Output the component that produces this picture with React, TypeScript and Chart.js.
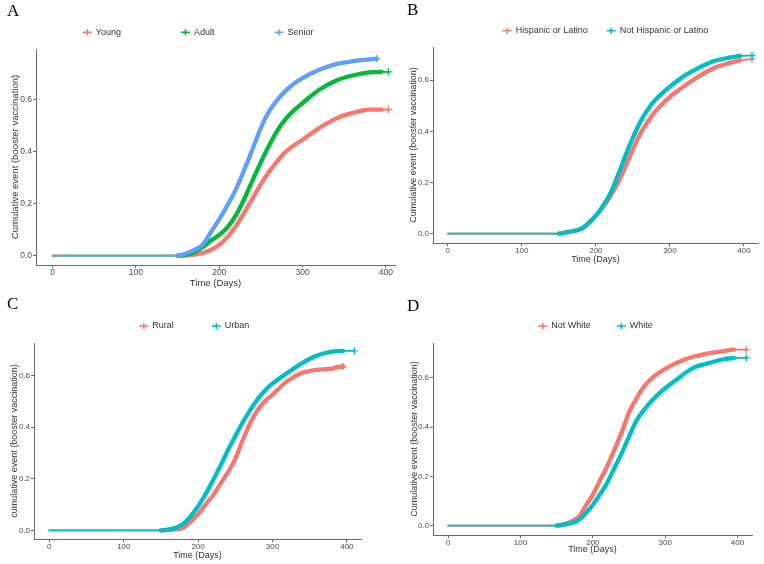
import React, { useEffect, useRef } from 'react';
import { Chart, registerables } from 'chart.js';

Chart.register(...registerables);

const FONT = '"Liberation Sans", Arial, sans-serif';
const SERIF = '"Liberation Serif", "Times New Roman", serif';
const AXIS = '#6a6a6a';
const TICK = '#4d4d4d';
const TITLE = '#333333';

const RED = '#F8766D';
const GREEN = '#00BA38';
const BLUE = '#619CFF';
const TEAL = '#00BFC4';

const xTickValues = [0, 100, 200, 300, 400];
const yTickValues = [0, 0.2, 0.4, 0.6];
const xAxisTitle = 'Time (Days)';

// ---------- Panel A: age group ----------
const ageLabels = ['Young', 'Adult', 'Senior'];
const ageDays = [0, 150, 160, 170, 180, 190, 200, 210, 220, 230, 240, 250, 260, 270, 280, 290, 300, 320, 340, 360, 380, 395, 403];
const youngValues = [0, 0, 0.001, 0.004, 0.01, 0.022, 0.042, 0.072, 0.113, 0.165, 0.22, 0.275, 0.324, 0.365, 0.4, 0.425, 0.446, 0.491, 0.527, 0.549, 0.562, 0.562, 0.562];
const adultValues = [0, 0, 0.003, 0.012, 0.032, 0.058, 0.08, 0.11, 0.155, 0.218, 0.29, 0.36, 0.425, 0.482, 0.527, 0.56, 0.587, 0.638, 0.673, 0.693, 0.705, 0.707, 0.707];
const seniorDays = [0, 150, 160, 170, 180, 190, 200, 210, 220, 230, 240, 250, 260, 270, 280, 290, 300, 320, 340, 360, 380, 389];
const seniorValues = [0, 0, 0.008, 0.022, 0.042, 0.09, 0.14, 0.195, 0.255, 0.33, 0.41, 0.492, 0.556, 0.6, 0.635, 0.662, 0.683, 0.715, 0.737, 0.748, 0.755, 0.758];

// ---------- Panel B: ethnicity ----------
const ethnicityLabels = ['Hispanic or Latino', 'Not Hispanic or Latino'];
const ethnicityDays = [0, 150, 160, 170, 180, 190, 200, 210, 220, 230, 240, 250, 260, 270, 280, 290, 300, 320, 340, 360, 380, 395, 411];
const hispanicValues = [0, 0, 0.005, 0.01, 0.018, 0.04, 0.07, 0.105, 0.148, 0.2, 0.262, 0.33, 0.39, 0.437, 0.477, 0.508, 0.535, 0.578, 0.617, 0.648, 0.667, 0.678, 0.683];
const notHispanicValues = [0, 0, 0.005, 0.01, 0.018, 0.04, 0.07, 0.11, 0.16, 0.23, 0.305, 0.375, 0.437, 0.485, 0.522, 0.55, 0.575, 0.618, 0.65, 0.675, 0.688, 0.695, 0.697];

// ---------- Panel C: residence ----------
const residenceLabels = ['Rural', 'Urban'];
const ruralDays = [0, 150, 160, 170, 180, 190, 200, 210, 220, 230, 240, 250, 260, 270, 280, 290, 300, 320, 340, 360, 380, 388, 395];
const ruralValues = [0, 0, 0.002, 0.004, 0.01, 0.035, 0.063, 0.1, 0.135, 0.18, 0.225, 0.277, 0.35, 0.415, 0.465, 0.5, 0.526, 0.578, 0.61, 0.622, 0.626, 0.633, 0.635];
const urbanDays = [0, 150, 160, 170, 180, 190, 200, 210, 220, 230, 240, 250, 260, 270, 280, 290, 300, 320, 340, 360, 380, 395, 410];
const urbanValues = [0, 0, 0.004, 0.01, 0.025, 0.055, 0.093, 0.14, 0.193, 0.25, 0.31, 0.365, 0.418, 0.466, 0.508, 0.542, 0.568, 0.61, 0.648, 0.677, 0.692, 0.695, 0.695];

// ---------- Panel D: race ----------
const raceLabels = ['Not White', 'White'];
const raceDays = [0, 150, 160, 170, 180, 190, 200, 210, 220, 230, 240, 250, 260, 270, 280, 290, 300, 320, 340, 360, 380, 395, 412];
const notWhiteValues = [0, 0, 0.006, 0.016, 0.035, 0.08, 0.126, 0.185, 0.243, 0.31, 0.38, 0.46, 0.515, 0.562, 0.595, 0.618, 0.637, 0.667, 0.687, 0.7, 0.709, 0.715, 0.715];
const whiteValues = [0, 0, 0.004, 0.01, 0.022, 0.05, 0.085, 0.128, 0.175, 0.235, 0.296, 0.362, 0.425, 0.468, 0.503, 0.533, 0.558, 0.603, 0.643, 0.66, 0.676, 0.681, 0.682];

type Series = { label: string; days: number[]; values: number[]; color: string };
type PanelCfg = {
  letter: string;
  letterX: number;
  letterTop: number;
  box: [number, number, number, number];
  plot: [number, number, number, number];
  xRange: [number, number];
  yRange: [number, number];
  yTitle: string;
  xTitleY: number;
  yTitleX: number;
  tickSize: number;
  titleSize: number;
  legendX: number;
  legendY: number;
  legendGap: number;
  series: Series[];
};

const panels: PanelCfg[] = [
  {
    letter: 'A', letterX: 7, letterTop: 2,
    box: [0, 0, 400, 292], plot: [36, 49, 395, 265],
    xRange: [-20, 411], yRange: [-0.036, 0.795],
    yTitle: 'Cumulative event (booster vaccination)', xTitleY: 283, yTitleX: 15,
    tickSize: 8.5, titleSize: 9.5,
    legendX: 82.7, legendY: 32.3, legendGap: 60,
    series: [
      { label: ageLabels[0], days: ageDays, values: youngValues, color: RED },
      { label: ageLabels[1], days: ageDays, values: adultValues, color: GREEN },
      { label: ageLabels[2], days: seniorDays, values: seniorValues, color: BLUE },
    ],
  },
  {
    letter: 'B', letterX: 407, letterTop: 1,
    box: [390, 0, 374, 268], plot: [433, 47, 758, 243],
    xRange: [-20, 419], yRange: [-0.037, 0.73],
    yTitle: 'Cumulative event (booster vaccination)', xTitleY: 260, yTitleX: 413.5,
    tickSize: 8, titleSize: 9,
    legendX: 502.7, legendY: 30.7, legendGap: 19,
    series: [
      { label: ethnicityLabels[0], days: ethnicityDays, values: hispanicValues, color: RED },
      { label: ethnicityLabels[1], days: ethnicityDays, values: notHispanicValues, color: TEAL },
    ],
  },
  {
    letter: 'C', letterX: 7, letterTop: 295,
    box: [0, 290, 372, 274], plot: [34, 343, 361, 539],
    xRange: [-20.5, 419], yRange: [-0.033, 0.7255],
    yTitle: 'cumulative event (booster vaccination)', xTitleY: 556, yTitleX: 15,
    tickSize: 8, titleSize: 9,
    legendX: 139.3, legendY: 326, legendGap: 38,
    series: [
      { label: residenceLabels[0], days: ruralDays, values: ruralValues, color: RED },
      { label: residenceLabels[1], days: urbanDays, values: urbanValues, color: TEAL },
    ],
  },
  {
    letter: 'D', letterX: 407, letterTop: 297,
    box: [390, 280, 374, 284], plot: [433, 343, 752, 535],
    xRange: [-21, 420], yRange: [-0.038, 0.742],
    yTitle: 'Cumulative event (booster vaccination)', xTitleY: 550, yTitleX: 415,
    tickSize: 8, titleSize: 9,
    legendX: 538.3, legendY: 326, legendGap: 26,
    series: [
      { label: raceLabels[0], days: raceDays, values: notWhiteValues, color: RED },
      { label: raceLabels[1], days: raceDays, values: whiteValues, color: TEAL },
    ],
  },
];

const panelLegend = {
  id: 'panelLegend',
  afterDraw(chart: any, _args: any, opts: any) {
    const { ctx } = chart;
    ctx.save();
    ctx.font = `${opts.size}px ${FONT}`;
    ctx.textBaseline = 'middle';
    ctx.textAlign = 'left';
    let x = opts.x;
    const y = opts.y;
    chart.data.datasets.forEach((ds: any) => {
      ctx.strokeStyle = ds.borderColor;
      ctx.lineWidth = 1.6;
      ctx.beginPath();
      ctx.moveTo(x, y);
      ctx.lineTo(x + 9, y);
      ctx.stroke();
      ctx.beginPath();
      ctx.moveTo(x + 4.5, y - 3);
      ctx.lineTo(x + 4.5, y + 3);
      ctx.stroke();
      ctx.fillStyle = TITLE;
      ctx.fillText(ds.label, x + 13, y);
      x += 13 + ctx.measureText(ds.label).width + opts.gap;
    });
    ctx.restore();
  },
};

function buildConfig(p: PanelCfg): any {
  const [cl, ct, cw, ch] = p.box;
  const [pl, pt, pr, pb] = p.plot;
  const titleLH = p.titleSize * 1.2;
  const gridCfg = { drawOnChartArea: false, drawTicks: true, tickLength: 3, color: AXIS, lineWidth: 1 };
  const borderCfg = { display: true, color: AXIS, width: 1 };
  return {
    type: 'line',
    data: {
      datasets: p.series.map((s, i) => {
        const n = s.days.length;
        return {
          label: s.label,
          data: s.days.map((d, k) => ({ x: d, y: s.values[k] })),
          borderColor: s.color,
          backgroundColor: s.color,
          borderWidth: 4.3,
          borderCapStyle: 'round',
          borderJoinStyle: 'round',
          cubicInterpolationMode: 'monotone',
          fill: false,
          order: p.series.length - i,
          pointStyle: 'cross',
          pointRadius: (c: any) => (c.dataIndex === n - 1 ? 3.5 : 0),
          pointHoverRadius: 0,
          pointBorderWidth: 1.4,
          pointBorderColor: s.color,
          segment: {
            borderWidth: (c: any) => (c.p0.parsed.x >= 149 && c.p1.parsed.x <= 398 ? 4.3 : 1.8),
          },
        };
      }),
    },
    options: {
      responsive: false,
      animation: false,
      events: [],
      layout: { padding: { top: pt - ct, right: cl + cw - pr, left: 0, bottom: 0 } },
      plugins: {
        legend: { display: false },
        tooltip: { enabled: false },
        panelLegend: { x: p.legendX - cl, y: p.legendY - ct, gap: p.legendGap, size: 9 },
      },
      scales: {
        x: {
          type: 'linear',
          min: p.xRange[0],
          max: p.xRange[1],
          afterBuildTicks: (s: any) => {
            s.ticks = xTickValues.map((v) => ({ value: v }));
          },
          afterFit: (s: any) => {
            s.height = ct + ch - pb;
          },
          grid: gridCfg,
          border: borderCfg,
          ticks: {
            color: TICK,
            font: { family: FONT, size: p.tickSize },
            padding: 0,
            maxRotation: 0,
            autoSkip: false,
            callback: (v: any) => String(v),
          },
          title: {
            display: true,
            text: xAxisTitle,
            color: TITLE,
            font: { family: FONT, size: p.titleSize },
            padding: { top: 0, bottom: ct + ch - p.xTitleY - titleLH / 2 },
          },
        },
        y: {
          type: 'linear',
          min: p.yRange[0],
          max: p.yRange[1],
          afterBuildTicks: (s: any) => {
            s.ticks = yTickValues.map((v) => ({ value: v }));
          },
          afterFit: (s: any) => {
            s.width = pl - cl;
          },
          grid: gridCfg,
          border: borderCfg,
          ticks: {
            color: TICK,
            font: { family: FONT, size: p.tickSize },
            padding: 1,
            autoSkip: false,
            callback: (v: any) => Number(v).toFixed(1),
          },
          title: {
            display: true,
            text: p.yTitle,
            color: TITLE,
            font: { family: FONT, size: p.titleSize },
            padding: { top: p.yTitleX - cl - titleLH / 2, bottom: 0 },
          },
        },
      },
    },
    plugins: [panelLegend],
  };
}

function Panel({ cfg }: { cfg: PanelCfg }) {
  const ref = useRef<HTMLCanvasElement>(null);
  useEffect(() => {
    if (!ref.current) return;
    const chart = new Chart(ref.current, buildConfig(cfg));
    return () => chart.destroy();
  }, [cfg]);
  const [cl, ct, cw, ch] = cfg.box;
  return (
    <>
      <canvas
        ref={ref}
        width={cw}
        height={ch}
        style={{ position: 'absolute', left: cl, top: ct, width: cw, height: ch }}
      />
      <div
        style={{
          position: 'absolute',
          left: cfg.letterX,
          top: cfg.letterTop,
          fontFamily: SERIF,
          fontSize: 17,
          lineHeight: '17px',
          color: '#000',
        }}
      >
        {cfg.letter}
      </div>
    </>
  );
}

export default function App() {
  return (
    <div style={{ position: 'absolute', left: 0, top: 0, width: 764, height: 564, background: '#fff', overflow: 'hidden' }}>
      {panels.map((p) => (
        <Panel key={p.letter} cfg={p} />
      ))}
    </div>
  );
}
